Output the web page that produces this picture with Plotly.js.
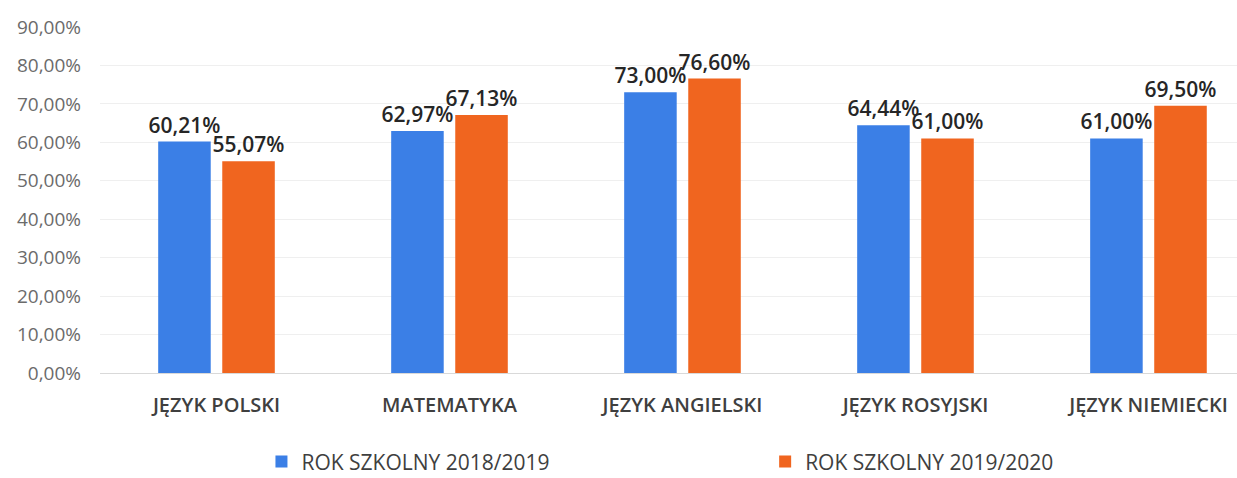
<!DOCTYPE html>
<html>
<head>
<meta charset="utf-8">
<script src="https://cdn.plot.ly/plotly-3.0.1.min.js"></script>
<style>html,body{margin:0;padding:0;background:#fff;}#chart{width:1237px;height:478px;}</style>
</head>
<body>
<div id="chart"></div>
<script>
const categories = ["JĘZYK POLSKI", "MATEMATYKA", "JĘZYK ANGIELSKI", "JĘZYK ROSYJSKI", "JĘZYK NIEMIECKI"];
const seriesNames = ["ROK SZKOLNY 2018/2019", "ROK SZKOLNY 2019/2020"];
const values2018 = [0.6021, 0.6297, 0.7300, 0.6444, 0.6100];
const values2019 = [0.5507, 0.6713, 0.7660, 0.6100, 0.6950];
const yTicks = [0, 0.1, 0.2, 0.3, 0.4, 0.5, 0.6, 0.7, 0.8, 0.9];

const font = "Open Sans, Noto Sans, sans-serif";
const labelFont = {family: font, size: 21, color: "#262626", weight: 600};
const legendFont = {family: font, size: 21, color: "#3f3f3f"};

const traces = [
  {type: "bar", name: seriesNames[0], x: categories, y: values2018, legend: "legend",
   marker: {color: "#3b7fe6"}, texttemplate: "%{y:.2%}", textposition: "outside",
   constraintext: "none", cliponaxis: false, textfont: labelFont},
  {type: "bar", name: seriesNames[1], x: categories, y: values2019, legend: "legend2",
   marker: {color: "#f0651f"}, texttemplate: "%{y:.2%}", textposition: "outside",
   constraintext: "none", cliponaxis: false, textfont: labelFont}
];

const layout = {
  width: 1237, height: 478,
  margin: {l: 100, r: 0, t: 27, b: 105, autoexpand: false},
  paper_bgcolor: "#fff", plot_bgcolor: "#fff",
  separators: ", ",
  barmode: "group", bargap: 0.45, bargroupgap: 0.18,
  xaxis: {range: [-0.5, 4.38], showgrid: false, showline: false, zeroline: false,
          ticks: "", ticklabelstandoff: 18,
          tickfont: {family: font, size: 20, color: "#3f3f3f", weight: 600}},
  yaxis: {range: [0, 0.9], tickvals: yTicks, tickformat: ".2%",
          showgrid: true, gridcolor: "#efefef", zeroline: true, zerolinecolor: "#d9d9d9",
          ticks: "", ticklabelstandoff: 18,
          tickfont: {family: font, size: 19, color: "#6b6b6b"}},
  showlegend: true,
  legend: {orientation: "h", x: 0.142, xanchor: "left", y: -0.257, yanchor: "middle",
           itemwidth: 30, font: legendFont},
  legend2: {orientation: "h", x: 0.585, xanchor: "left", y: -0.257, yanchor: "middle",
            itemwidth: 30, font: legendFont}
};

Plotly.newPlot("chart", traces, layout, {displayModeBar: false, staticPlot: true});
</script>
</body>
</html>
